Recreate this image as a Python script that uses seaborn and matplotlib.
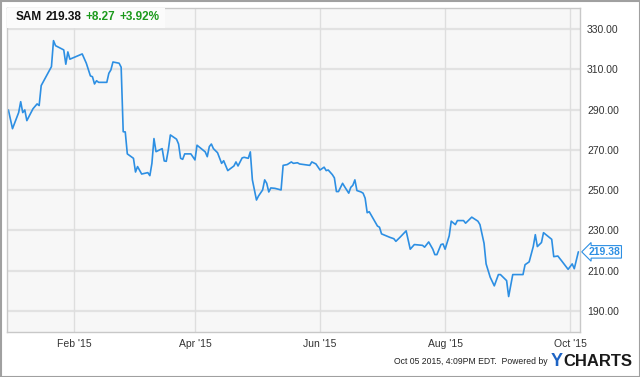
import matplotlib
matplotlib.use("Agg")
import matplotlib.pyplot as plt
import seaborn as sns
import pandas as pd
from matplotlib.patches import Rectangle

# ---- data ----
ticker = "SAM"
last_price = "219.38"
change_abs = "+8.27"
change_pct = "+3.92%"
start_date = "2015-01-01"
# day offsets from start_date
day_offsets = [-1, 1, 4, 5, 6, 7, 8, 11, 13, 14, 15, 20, 21, 22, 26, 27, 28, 29, 35, 37,
               39, 40, 41, 42, 43, 47, 48, 49, 50, 53, 54, 55, 56, 57, 60, 61, 62, 64, 67, 68,
               69, 70, 71, 74, 75, 76, 77, 78, 81, 82, 83, 84, 85, 88, 90, 91, 95, 96, 97, 98,
               99, 101, 103, 104, 106, 109, 110, 111, 113, 114, 116, 117, 118, 120, 121, 123, 124, 125, 126, 127,
               129, 132, 133, 135, 137, 138, 140, 141, 146, 147, 149, 151, 152, 153, 154, 155, 157, 158, 159, 160,
               162, 163, 165, 166, 167, 168, 169, 171, 172, 173, 174, 175, 179, 180, 181, 185, 187, 188, 190, 193,
               195, 197, 201, 202, 204, 206, 207, 208, 210, 211, 212, 214, 215, 217, 218, 221, 222, 225, 228, 229,
               231, 232, 234, 236, 238, 239, 241, 242, 243, 245, 250, 251, 253, 255, 256, 257, 259, 260, 264, 265,
               267, 269, 272, 274, 275, 277]
prices = [289.8, 280.5, 288.5, 293.9, 288.5, 289.8, 284.5, 290.4, 292.8, 292.0, 301.9, 311.3, 324.2, 321.7, 319.6, 312.5, 318.6, 315.0, 317.6, 313.0,
          306.7, 306.3, 302.7, 304.3, 303.5, 303.5, 308.0, 309.7, 313.6, 313.0, 311.0, 279.0, 278.9, 268.0, 265.8, 259.0, 261.7, 258.0, 258.7, 257.2,
          263.3, 275.6, 269.1, 270.6, 264.5, 264.3, 270.0, 277.4, 275.3, 272.9, 265.8, 265.3, 268.0, 268.0, 265.0, 272.3, 269.0, 266.6, 271.6, 272.9,
          270.6, 268.6, 263.3, 264.6, 259.7, 262.0, 264.0, 262.0, 266.0, 266.3, 265.8, 269.0, 255.1, 245.1, 247.1, 250.1, 255.1, 253.4, 249.1, 251.1,
          250.9, 250.1, 262.3, 262.7, 264.0, 263.3, 263.6, 263.0, 262.3, 264.0, 263.0, 260.0, 260.7, 261.4, 259.7, 260.0, 257.7, 256.1, 249.3, 249.3,
          253.4, 251.7, 248.5, 251.4, 252.4, 255.1, 249.8, 249.1, 248.5, 246.0, 238.8, 239.3, 232.2, 231.6, 228.3, 226.6, 225.9, 224.6, 226.6, 229.8,
          220.7, 223.0, 222.6, 221.7, 224.3, 220.7, 218.0, 218.0, 223.0, 223.3, 220.7, 227.3, 234.6, 232.9, 234.9, 234.9, 233.6, 236.6, 234.6, 232.9,
          223.6, 213.4, 206.8, 202.5, 208.1, 208.1, 206.1, 205.1, 197.2, 208.1, 208.1, 213.0, 214.4, 222.0, 227.9, 222.0, 224.0, 228.9, 225.6, 217.0,
          217.3, 214.7, 210.7, 213.4, 211.0, 219.38]
y_ticks = [190, 210, 230, 250, 270, 290, 310, 330]
x_tick_dates = ["2015-02-01", "2015-04-01", "2015-06-01", "2015-08-01", "2015-10-01"]
x_tick_labels = ["Feb '15", "Apr '15", "Jun '15", "Aug '15", "Oct '15"]
footer = "Oct 05 2015, 4:09PM EDT.  Powered by"

df = pd.DataFrame({
    "date": pd.Timestamp(start_date) + pd.to_timedelta(day_offsets, unit="D"),
    "price": prices,
})

sns.set_theme(style="white")
plt.rcParams["font.family"] = ["Liberation Sans", "DejaVu Sans"]

W, H = 640, 377
fig = plt.figure(figsize=(W / 100, H / 100), dpi=100)
fig.patch.set_facecolor("white")
L, R, T, B = 7, 580, 8, 332
ax = fig.add_axes([L / W, 1 - B / H, (R - L) / W, (B - T) / H])
ax.set_facecolor("#f7f7f7")

line_color = "#2d8fe3"
sns.lineplot(data=df, x="date", y="price", ax=ax, color=line_color, linewidth=1.2)

x0 = pd.Timestamp(start_date) + pd.Timedelta(days=-1.68)
x1 = pd.Timestamp(start_date) + pd.Timedelta(days=277.8)
ax.set_xlim(x0, x1)
ax.set_ylim(179.6, 340.4)

ax.set_yticks(y_ticks)
ax.set_yticklabels([f"{v:.2f}" for v in y_ticks])
ax.yaxis.tick_right()
ax.set_xticks(pd.to_datetime(x_tick_dates))
ax.set_xticklabels(x_tick_labels)
ax.tick_params(axis="both", length=0, labelsize=7.5, colors="#333333")
ax.tick_params(axis="y", pad=5)
ax.tick_params(axis="x", pad=5)
ax.set_xlabel("")
ax.set_ylabel("")

for v in y_ticks:
    ax.axhline(v, color="#e2e2e2", lw=1.6, zorder=0)
for d in x_tick_dates:
    ax.axvline(pd.Timestamp(d), color="#dedede", lw=1.0, zorder=0)
ax.grid(False)

for s in ax.spines.values():
    s.set_color("#c8c8c8")
    s.set_linewidth(1.0)

# title box
ax.add_patch(Rectangle((0, 1 - 20 / (B - T)), 158 / (R - L), 20 / (B - T),
                       transform=ax.transAxes, facecolor="#fbfbfb", edgecolor="none", zorder=3))
ty = 1 - 17 / H
fig.text(16 / W, ty, ticker, fontsize=8.5, fontweight="bold", color="#111111", va="center")
fig.text(46 / W, ty, last_price, fontsize=8.5, fontweight="bold", color="#111111", va="center")
fig.text(86 / W, ty, change_abs, fontsize=8.5, fontweight="bold", color="#1c9a1c", va="center")
fig.text(119 / W, ty, change_pct, fontsize=8.5, fontweight="bold", color="#1c9a1c", va="center")

# last price label
ax.annotate(last_price, xy=(1.0, prices[-1]), xycoords=("axes fraction", "data"),
            xytext=(6, 0), textcoords="offset points", ha="left", va="center",
            fontsize=7.5, fontweight="bold", color=line_color, annotation_clip=False,
            bbox=dict(boxstyle="larrow,pad=0.12", fc="white", ec=line_color, lw=0.8), zorder=5)

# footer
fig.canvas.draw()
renderer = fig.canvas.get_renderer()
charts = fig.text(632 / W, 1 - 361 / H, "CHARTS", fontsize=12, fontweight="bold", color="#1a1a1a",
                  ha="right", va="center")
cw = charts.get_window_extent(renderer).width
ytxt = fig.text((632 - cw - 0.5) / W, 1 - 361 / H, "Y", fontsize=13, fontweight="bold", color="#1d63c4",
                ha="right", va="center")
yw = ytxt.get_window_extent(renderer).width
fig.text((632 - cw - yw - 3) / W, 1 - 362 / H, footer, fontsize=6.2, color="#222222", ha="right", va="center")

# outer frame
fig.add_artist(Rectangle((0.5 / W, 0.5 / H), (W - 1) / W, (H - 1) / H, transform=fig.transFigure,
                         fill=False, edgecolor="#a0a0a0", lw=1.5))

fig.savefig("out.png", dpi=100)
